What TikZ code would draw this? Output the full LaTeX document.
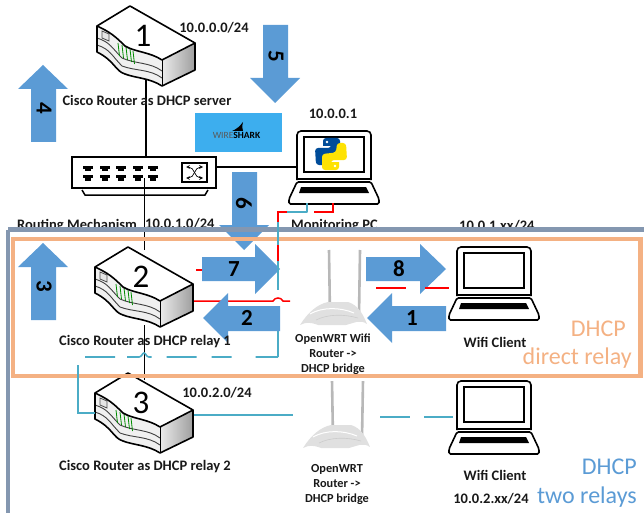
\documentclass[tikz,border=0pt]{standalone}
\usepackage{fontspec}
\setmainfont{Carlito}
\definecolor{arrowblue}{HTML}{5B9BD5}
\definecolor{frameblue}{HTML}{8497B0}
\definecolor{frameorange}{HTML}{F4B183}
\definecolor{wireblue}{HTML}{4BACC6}
\definecolor{sharkblue}{HTML}{3DAEEE}
\tikzset{
  lbl/.style={font=\fontsize{14.5}{15}\selectfont\bfseries,inner sep=0pt,text=black!90},
  lbls/.style={font=\fontsize{12.3}{15}\selectfont\bfseries,inner sep=0pt,align=center,text=black!90},
  num/.style={font=\fontsize{23}{23}\selectfont\bfseries,inner sep=0pt},
  bignum/.style={font=\fontsize{33}{33}\selectfont,inner sep=0pt},
  blockarrow/.style={fill=arrowblue,draw=none},
  blackwire/.style={draw=black,line width=1.5pt},
  redwire/.style={draw=red,line width=1.5pt},
  bluewire/.style={draw=wireblue,line width=1.6pt},
  device/.style={draw=black,line width=1.6pt,fill=white},
  framebox/.style={draw,line width=4.5pt,fill=none},
}
\newcommand{\routerpic}[3]{%
\begin{scope}[shift={(#1,#2)}]
 \shade[left color=black!8,right color=black!38,draw=none] (32,54) -- (65,37) -- (65,64) -- (32,80) -- cycle;
 \path[fill=white] (-33,20) -- (0,0) -- (65,37) -- (32,54) -- (32,80) -- cycle;
 \shade[left color=black!8,right color=black!38,draw=none] (32,54) -- (65,37) -- (65,64) -- (32,80) -- cycle;
 \path[fill=black!6] (-33,20) .. controls (-20,26) and (-15,30) .. (-5,40) .. controls (5,46) and (20,46) .. (32,54) -- (32,80) .. controls (20,72) and (5,72) .. (-5,68) .. controls (-15,65) and (-15,55) .. (-33,46) -- cycle;
 \draw[black!75,line width=.9pt] (-33,32) .. controls (-20,36) and (-18,42) .. (-8,52) .. controls (5,58) and (20,56) .. (32,65);
 \draw[black!75,line width=.9pt] (-33,39) .. controls (-20,43) and (-18,50) .. (-8,60) .. controls (5,65) and (20,63) .. (32,72);
 \foreach \xa/\ya in {-12/37,-8/39,-4/41,0/43,3/45}
   \draw[green!55!black,line width=.8pt] (\xa,\ya) -- (\xa+1.5,\ya+13);
 \draw[black!70,fill=black!10,line width=.8pt] (-28,25) -- (-21,28) -- (-21,35) -- (-28,32) -- cycle;
 \draw[black,line width=1.6pt,line join=round] (-33,20) -- (0,0) -- (65,37) -- (32,54)
   .. controls (20,46) and (5,46) .. (-5,40) .. controls (-15,30) and (-20,26) .. (-33,20) -- cycle;
 \draw[black,line width=1.6pt,line join=round] (-33,20) -- (-33,46) .. controls (-15,55) and (-15,65) .. (-5,68) .. controls (5,72) and (20,72) .. (32,80) -- (65,64) -- (65,37);
 \draw[black,line width=1pt] (32,54) -- (32,80);
 \node[bignum] at (13,30) {#3};
\end{scope}}
\newcommand{\laptoppic}[2]{%
\begin{scope}[shift={(#1,#2)}]
 \draw[device,rounded corners=4pt] (457,296) -- (457,247) -- (531,247) -- (531,296);
 \draw[black,line width=1.3pt] (464,253) rectangle (524,288);
 \draw[black,line width=1.3pt] (457,295) -- (531,295);
 \draw[device,rounded corners=1.5pt] (457,298) -- (531,298) -- (539,315) -- (539,320) -- (449,320) -- (449,315) -- cycle;
 \fill[black] (461,303) -- (526,303) -- (529,309) -- (459,309) -- cycle;
\end{scope}}
\newcommand{\appic}[3]{%
\begin{scope}[shift={(#1,#2)}]
 \draw[black!28,line width=2.6pt] (-4,14) -- (-5,#3);
 \draw[black!28,line width=2.6pt] (25,14) -- (26,#3);
 \fill[black!12] (-34,23) .. controls (-26,10) and (-16,2) .. (-6,0) -- (14,0) .. controls (24,3) and (29,12) .. (33,22) .. controls (26,17) and (20,21) .. (12,23) -- (-16,23) .. controls (-24,20) and (-28,20) .. (-34,23) -- cycle;
 \draw[white,line width=1pt] (-24,12) .. controls (-12,5) and (6,5) .. (20,11);
 \draw[black!20,line width=.6pt] (-18,18) .. controls (-6,12) and (10,12) .. (24,16);
\end{scope}}
\begin{document}
\begin{tikzpicture}[x=1pt,y=-1pt]
\useasboundingbox (0,0) rectangle (644,513);
% labels that the frames cut
\node[lbl,anchor=west] (lrm) at (17,226) {Routing Mechanism};
\node[lbl,anchor=west] (lnet1) at (145,224) {10.0.1.0/24};
\node[lbl,anchor=west] (lmon) at (291,226) {Monitoring PC};
\node[lbl,anchor=west] (lnetc) at (459,226) {10.0.1.xx/24};
\node[lbls] (lap1) at (333,354) {OpenWRT Wifi\\Router ->\\DHCP bridge};
% arrows under the frames
\fill[blockarrow] (31,142) -- (31,89) -- (18,89) -- (43,65) -- (68,89) -- (56,89) -- (56,142) -- cycle;
\fill[blockarrow] (263,25) -- (288,25) -- (288,78) -- (300,78) -- (275,103) -- (250,78) -- (263,78) -- cycle;
\fill[blockarrow] (232,172) -- (257,172) -- (257,225) -- (269,225) -- (244,250) -- (219,225) -- (232,225) -- cycle;
\fill[blockarrow] (31,320) -- (31,267) -- (18,267) -- (43,243) -- (68,267) -- (56,267) -- (56,320) -- cycle;
\fill[blockarrow] (202,257) -- (255,257) -- (255,244) -- (280,269) -- (255,294) -- (255,281) -- (202,281) -- cycle;
\fill[blockarrow] (366,257) -- (420,257) -- (420,244) -- (446,269) -- (420,294) -- (420,281) -- (366,281) -- cycle;
% named anchors
\coordinate (r1s) at (146,80);
\coordinate (r2n) at (144.5,250);
\coordinate (r2s) at (144.5,325);
\coordinate (r2e) at (194,301);
\coordinate (r2e2) at (196,270);
\coordinate (r3n) at (144.5,380);
\coordinate (r3w) at (95,413);
\coordinate (r3e) at (194,415);
\coordinate (monb) at (307,203);
\coordinate (monr) at (333,203);
\coordinate (ap1w) at (290,301);
\coordinate (ap2w) at (293,415);
% switch
\node[device,minimum width=144pt,minimum height=31pt,inner sep=0pt,line width=1.8pt] (sw) at (144,172.5) {};
\draw[black,line width=1.5pt] (82,190) -- (85,195) -- (205,195) -- (208,190);
\foreach \px in {88,105,121,138,153}{
  \fill[black] (\px-5,165.5) rectangle (\px+5,168.5);
  \fill[black] (\px-3,168.5) rectangle (\px+3,171);
  \fill[black] (\px-5,175) rectangle (\px+5,178);
  \fill[black] (\px-3,178) rectangle (\px+3,180.5);
}
\draw[black,line width=1.3pt,fill=white] (182,163) rectangle (207,182);
\draw[black,line width=.7pt,<->,>=stealth] (186,167) .. controls (195,167) and (194,178) .. (203,178);
\draw[black,line width=.7pt,<->,>=stealth] (186,178) .. controls (195,178) and (194,167) .. (203,167);
% black wires
\path[blackwire] (r1s) -- (r1s |- sw.north);
\path[blackwire] (144.5,178) -- (r2n);
\path[blackwire] (r2s) -- (r3n);
% routers and devices
\routerpic{130}{6}{1}
\routerpic{128}{247}{2}
\routerpic{128}{373}{3}
\laptoppic{-160}{-116}
\laptoppic{0}{0}
\laptoppic{0}{134}
\path[blackwire] (sw.east |- 0,167) -- (297,167);
% python logo
\begin{scope}
 \fill[blue!50!cyan!60!black] (323,146) [rounded corners=3pt] -- (323,138) -- (340,138) -- (340,154) -- (326,155.5) -- (325,165) -- (316,165) -- (315,148) -- (331,148) [sharp corners] -- (331,146) -- cycle;
 \fill[white] (327,142) circle (1.3);
 \begin{scope}[shift={(662,308)},x=-1pt,y=1pt]
 \fill[yellow!85!orange] (323,146) [rounded corners=3pt] -- (323,138) -- (340,138) -- (340,154) -- (326,155.5) -- (325,165) -- (316,165) -- (315,148) -- (331,148) [sharp corners] -- (331,146) -- cycle;
 \end{scope}
 \fill[white] (335,166) circle (1.3);
\end{scope}
% wifi routers
\appic{334}{302}{-52}
\appic{337}{425}{-45}
% frames
\draw[framebox,draw=frameblue] (8,229.5) -- (650,229.5);
\draw[framebox,draw=frameblue] (8,229.5) -- (8,520);
\draw[framebox,draw=frameorange] (13,239) rectangle (640.5,376);
\fill[white] (292,378.2) rectangle (380,381);
% wires
\draw[bluewire,line join=round] (monb) -- (307,212) -- (278,212) -- (278,290);
\draw[redwire] (monr) -- (333,212) -- (314,212);
\draw[redwire] (287,212) -- (278,212) -- (278,222);
\draw[redwire] (278,245) -- (278,261);
\draw[redwire] (r2e2) -- (202,270);
\draw[redwire] (r2e) -- (273,301) .. controls (275,297) and (281,297) .. (283,301) -- (ap1w);
\draw[redwire] (376,288) -- (406,288);
\draw[redwire] (425,288) -- (449,288);
\draw[bluewire,dash pattern=on 30pt off 12pt on 28pt off 15pt on 30pt off 15pt on 20pt off 24pt on 25pt off 0pt] (85,357) -- (139,357) .. controls (142,357) and (142,353) .. (144,353) .. controls (146,353) and (146,357) .. (149,357) -- (278,357);
\draw[bluewire] (278,357) -- (278,306);
\draw[bluewire] (78,365) -- (78,413) -- (r3w);
\draw[bluewire] (r3e) -- (ap2w);
\draw[bluewire] (380,417) -- (410,417);
\draw[bluewire] (424,417) -- (453,417);
% arrows above the wires
\fill[blockarrow] (280,306) -- (228,306) -- (228,293) -- (203,318) -- (228,343) -- (228,331) -- (280,331) -- cycle;
\fill[blockarrow] (446,306) -- (392,306) -- (392,293) -- (367,318) -- (392,343) -- (392,331) -- (446,331) -- cycle;
% wireshark
\node[fill=sharkblue,minimum width=87pt,minimum height=39pt,inner sep=0pt] (ws) at (238.5,132.5) {};
\fill[black] (232,131) .. controls (237,129) and (240,126) .. (243,122) .. controls (242,126) and (242,129) .. (243,131) -- cycle;
\node[font=\fontsize{9.5}{10}\selectfont,inner sep=0pt] (wst) at (236.5,135) {\textcolor{black!65}{WIRE}\textbf{SHARK}};
% arrow numbers
\node[num,rotate=-90] (n4) at (44,108) {4};
\node[num,rotate=-90] (n5) at (276,56) {5};
\node[num,rotate=-90] (n6) at (244,203) {6};
\node[num,rotate=-90] (n3) at (44,286) {3};
\node[num] (n7) at (234,269) {7};
\node[num] (n8) at (399,269) {8};
\node[num] (n2) at (247,318) {2};
\node[num] (n1) at (412,318) {1};
% other labels
\node[lbl] (lnet0) at (214,28) {10.0.0.0/24};
\node[lbl] (lsrv) at (147,100) {Cisco Router as DHCP server};
\node[lbl] (lpc) at (333,114) {10.0.0.1};
\node[lbl] (lr1) at (145,342) {Cisco Router as DHCP relay 1};
\node[lbl] (lr2) at (145,467) {Cisco Router as DHCP relay 2};
\node[lbl] (lnet2) at (217,393) {10.0.2.0/24};
\node[lbls] (lap2) at (337,485) {OpenWRT\\Router ->\\DHCP bridge};
\node[lbl] (lwc1) at (495,342) {Wifi Client};
\node[lbl] (lwc2) at (495,475) {Wifi Client};
\node[lbl] (lnetc2) at (491,499) {10.0.2.xx/24};
\node[font=\fontsize{24}{24}\selectfont,text=frameorange,inner sep=0pt,anchor=east] (td1) at (626,329) {DHCP};
\node[font=\fontsize{24}{24}\selectfont,text=frameorange,inner sep=0pt,anchor=east] (td2) at (632,358) {direct relay};
\node[font=\fontsize{24}{24}\selectfont,text=arrowblue,inner sep=0pt,anchor=east] (tb1) at (637,467) {DHCP};
\node[font=\fontsize{24}{24}\selectfont,text=arrowblue,inner sep=0pt,anchor=east] (tb2) at (637,497) {two relays};
\end{tikzpicture}
\end{document}
